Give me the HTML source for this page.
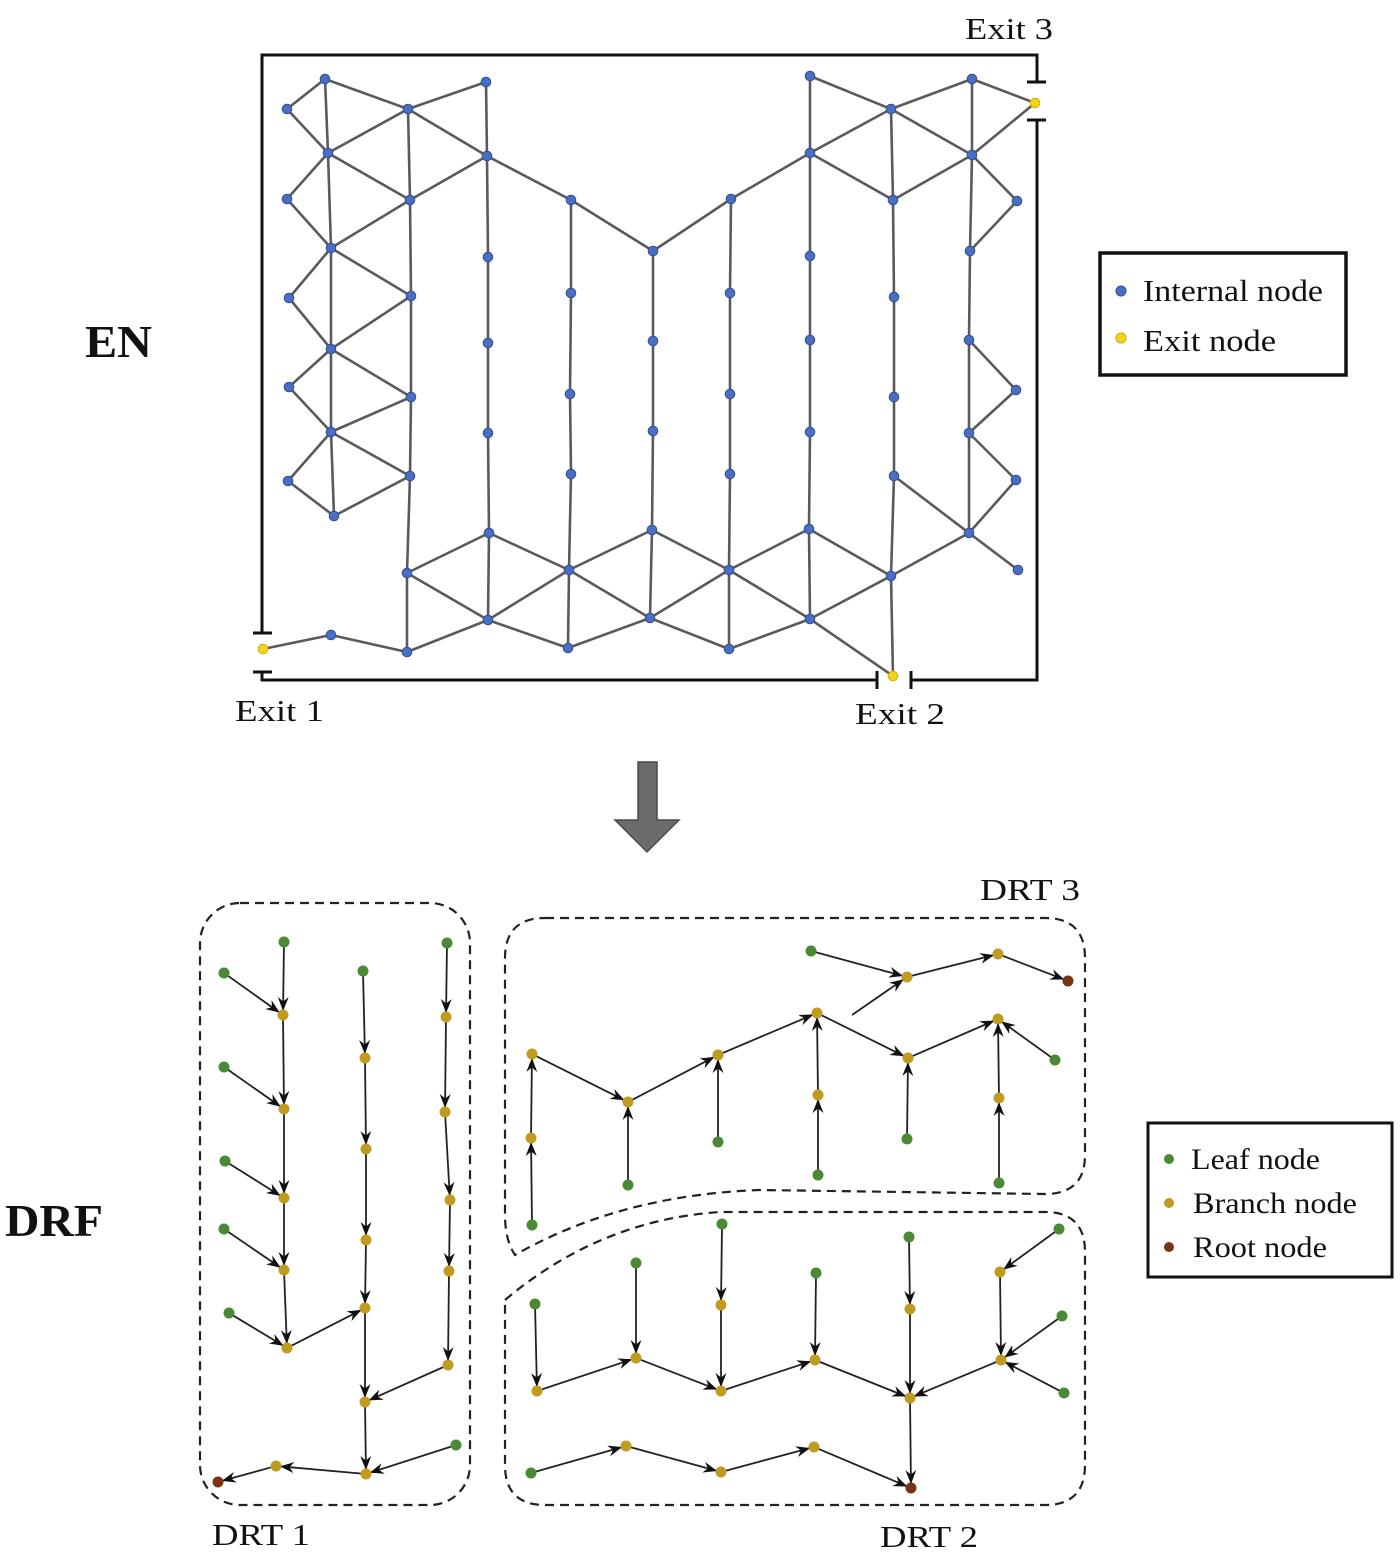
<!DOCTYPE html>
<html><head><meta charset="utf-8"><style>
html,body{margin:0;padding:0;background:#fff;}
svg{display:block;}
text{font-family:"Liberation Serif",serif;fill:#111;}
</style></head><body>
<svg id="s" width="1400" height="1559" viewBox="0 0 1400 1559" xmlns="http://www.w3.org/2000/svg">
<defs>
<marker id="ah" viewBox="0 0 14 11" refX="13" refY="5.5" markerWidth="14" markerHeight="11" markerUnits="userSpaceOnUse" orient="auto">
<path d="M0,0 L14,5.5 L0,11 L4.5,5.5 Z" fill="#111"/>
</marker>
</defs>
<g stroke="#111" stroke-width="3" fill="none">
<path d="M262,633 L262,55 L1037,55 L1037,82"/>
<path d="M1027,82 L1046,82 M1027,120 L1046,120"/>
<path d="M1037,120 L1037,680 L911,680"/>
<path d="M911,671 L911,689 M877,671 L877,689"/>
<path d="M877,680 L262,680 L262,672"/>
<path d="M253,633 L272,633 M253,672 L272,672"/>
</g>
<g id="en"></g>
<g id="drf"></g>
<g stroke="#222" stroke-width="2.2" fill="none" stroke-dasharray="9,6">
<rect x="200" y="903" width="270" height="602" rx="40"/>
<path d="M545,918 L1045,918 Q1085,918 1085,958 L1085,1155 Q1085,1194 1045,1194 L760,1190 Q620,1195 515,1255 Q505,1240 505,1215 L505,958 Q505,918 545,918 Z"/>
<path d="M505,1300 Q600,1220 720,1212 L1045,1212 Q1085,1212 1085,1252 L1085,1465 Q1085,1505 1045,1505 L545,1505 Q505,1505 505,1465 Z"/>
</g>
<path d="M638,762 L657,762 L657,820 L679,820 L647,852 L615,820 L638,820 Z" fill="#6b6b6b" stroke="#4a4a4a" stroke-width="1.5"/>
<rect x="1100" y="253" width="246" height="122" fill="none" stroke="#111" stroke-width="3.5"/>
<circle cx="1121" cy="291" r="5" fill="#4a6fc0" stroke="#2f4f99"/>
<circle cx="1121" cy="338" r="5" fill="#f2d41c" stroke="#d0a800"/>
<text x="1143" y="301" font-size="31" textLength="180" lengthAdjust="spacingAndGlyphs">Internal node</text>
<text x="1143" y="351" font-size="31" textLength="133" lengthAdjust="spacingAndGlyphs">Exit node</text>
<rect x="1148" y="1123" width="244" height="154" fill="none" stroke="#111" stroke-width="3"/>
<circle cx="1169" cy="1159" r="5" fill="#4a8a34"/>
<circle cx="1169" cy="1203" r="5" fill="#c19a20"/>
<circle cx="1169" cy="1247" r="5" fill="#7a3414"/>
<text x="1191" y="1169" font-size="30" textLength="129" lengthAdjust="spacingAndGlyphs">Leaf node</text>
<text x="1193" y="1213" font-size="30" textLength="164" lengthAdjust="spacingAndGlyphs">Branch node</text>
<text x="1193" y="1257" font-size="30" textLength="134" lengthAdjust="spacingAndGlyphs">Root node</text>
<text x="85" y="357" font-size="46" font-weight="bold" textLength="67" lengthAdjust="spacingAndGlyphs">EN</text>
<text x="5" y="1236" font-size="46" font-weight="bold" textLength="98" lengthAdjust="spacingAndGlyphs">DRF</text>
<text x="965" y="39" font-size="31" textLength="88" lengthAdjust="spacingAndGlyphs">Exit 3</text>
<text x="235" y="721" font-size="31" textLength="89" lengthAdjust="spacingAndGlyphs">Exit 1</text>
<text x="855" y="724" font-size="31" textLength="90" lengthAdjust="spacingAndGlyphs">Exit 2</text>
<text x="980" y="900" font-size="31" textLength="100" lengthAdjust="spacingAndGlyphs">DRT 3</text>
<text x="212" y="1545" font-size="31" textLength="98" lengthAdjust="spacingAndGlyphs">DRT 1</text>
<text x="880" y="1547" font-size="31" textLength="98" lengthAdjust="spacingAndGlyphs">DRT 2</text>
</svg>
<script>
var NS="http://www.w3.org/2000/svg";
function el(p,t,a){var e=document.createElementNS(NS,t);for(var k in a)e.setAttribute(k,a[k]);p.appendChild(e);return e;}
var N={A1:[287,109],A2:[325,79],A3:[328,153],A4:[287,199],A5:[331,248],A6:[289,298],A7:[331,349],A8:[289,387],A9:[331,432],A10:[288,481],A11:[334,516],
B1:[408,109],B2:[410,200],B3:[411,296],B4:[411,397],B5:[410,476],B6:[407,573],B7:[407,652],
C1:[486,82],C2:[487,156],C3:[488,257],C4:[488,343],C5:[488,433],C6:[489,533],C7:[488,620],
D1:[571,200],D2:[571,293],D3:[570,394],D4:[571,474],D5:[569,570],D6:[568,648],
E1:[653,251],E2:[653,341],E3:[653,431],E4:[652,530],E5:[650,618],
F1:[731,199],F2:[730,293],F3:[730,394],F4:[730,474],F5:[729,570],F6:[729,649],
G1:[810,76],G2:[810,153],G3:[810,256],G4:[810,340],G5:[810,432],G6:[809,529],G7:[810,619],
H1:[891,109],H2:[893,200],H3:[894,297],H4:[894,397],H5:[894,476],H6:[891,576],X2:[893,676],
I1:[972,79],I2:[972,155],I3:[970,251],I4:[969,340],I5:[969,433],I6:[969,533],
J1:[1017,201],J2:[1016,390],J3:[1016,480],J4:[1018,570],X3:[1035,103],X1:[263,649],K:[331,635]};
var E=["A2-A1","A1-A3","A2-A3","A3-A5","A5-A7","A7-A9","A9-A11","A2-B1","A3-B1","B1-C1","A3-B2","A4-A3","A4-A5","A5-B2","B1-C2","B2-C2","A5-B3","A6-A5","A6-A7","A7-B3","A7-B4","A8-A7","A8-A9","A9-B4","A9-B5","A10-A9","A10-A11","A11-B5",
"B1-B2","B2-B3","B3-B4","B4-B5","B5-B6","B6-B7","C1-C2","C2-C3","C3-C4","C4-C5","C5-C6","C6-C7","C2-D1","D1-E1","E1-F1","F1-G2",
"D1-D2","D2-D3","D3-D4","D4-D5","D5-D6","E1-E2","E2-E3","E3-E4","E4-E5","F1-F2","F2-F3","F3-F4","F4-F5","F5-F6","G1-G2","G2-G3","G3-G4","G4-G5","G5-G6","G6-G7",
"B6-C6","B6-C7","C6-D5","C7-D5","B7-C7","C7-D6","D6-E5","D5-E4","D5-E5","E4-F5","E5-F5","E5-F6","F6-G7","F5-G6","F5-G7","G6-H6","G7-H6","G7-X2","H6-X2","H6-I6","H5-I6","I6-J3","I6-J4",
"H1-H2","H2-H3","H3-H4","H4-H5","H5-H6","I1-I2","I2-I3","I3-I4","I4-I5","I5-I6","I5-J2","I5-J3","I4-J2",
"G1-H1","H1-I1","I1-X3","H1-I2","I2-X3","G2-H1","G2-H2","H2-I2","I2-J1","J1-I3","X1-K","K-B7"];
var g=document.getElementById("en");
E.forEach(function(e){var p=e.split("-"),a=N[p[0]],b=N[p[1]];el(g,"line",{x1:a[0],y1:a[1],x2:b[0],y2:b[1],stroke:"#5a5a5a","stroke-width":2.6});});
for(var k in N){var c=N[k],ex=k[0]=="X";el(g,"circle",{cx:c[0],cy:c[1],r:4.8,fill:ex?"#f2d41c":"#4a6fc0",stroke:ex?"#d6b000":"#2f4f99","stroke-width":1});}
var d=document.getElementById("drf");
var L="#4a8a34",B="#c19a20",R="#7a3414";
var nodes=[];var arrows=[];
function n(x,y,c){nodes.push([x,y,c]);return [x,y];}
function a(p,q,noShort){arrows.push([p,q,noShort]);}
var P0=n(284,942,L),P1=n(283,1015,B),P2=n(284,1109,B),P3=n(284,1198,B),P4=n(284,1270,B),P5=n(287,1348,B);
var l1=n(224,973,L),l2=n(224,1067,L),l3=n(225,1161,L),l4=n(224,1229,L),l5=n(229,1313,L);
a(P0,P1);a(P1,P2);a(P2,P3);a(P3,P4);a(P4,P5);a(l1,P1);a(l2,P2);a(l3,P3);a(l4,P4);a(l5,P5);
var Q0=n(363,971,L),Q1=n(365,1058,B),Q2=n(366,1149,B),Q3=n(366,1240,B),Q5=n(365,1308,B),Q6=n(365,1402,B),Q7=n(366,1474,B);
a(Q0,Q1);a(Q1,Q2);a(Q2,Q3);a(Q3,Q5);a(Q5,Q6);a(Q6,Q7);a(P5,Q5);
var R0=n(447,943,L),R1=n(446,1017,B),R2=n(445,1112,B),R3=n(450,1200,B),R4=n(449,1271,B),R5=n(448,1365,B);
a(R0,R1);a(R1,R2);a(R2,R3);a(R3,R4);a(R4,R5);a(R5,Q6);
var lb=n(456,1445,L),b1=n(276,1466,B),rt1=n(218,1482,R);a(lb,Q7);a(Q7,b1);a(b1,rt1);
var t0=n(811,951,L),t1=n(907,977,B),t2=n(998,954,B),rt3=n(1068,981,R);a(t0,t1);a(t1,t2);a(t2,rt3);
a([852,1015],t1,true);
var m1=n(532,1054,B),m2=n(628,1102,B),m3=n(718,1055,B),m4=n(817,1013,B),m5=n(908,1058,B),m6=n(998,1019,B);
a(m1,m2);a(m2,m3);a(m3,m4);a(m4,m5);a(m5,m6);a(n(1055,1060,L),m6);
var v1=n(531,1138,B);a(n(532,1225,L),v1);a(v1,m1);
a(n(628,1185,L),m2);a(n(718,1142,L),m3);
var v4=n(818,1095,B);a(n(818,1175,L),v4);a(v4,m4);
a(n(907,1139,L),m5);
var v6=n(999,1098,B);a(n(999,1183,L),v6);a(v6,m6);
var u1=n(537,1391,B),u2=n(636,1358,B),u3=n(721,1391,B),u4=n(815,1360,B),u5=n(910,1398,B),u6=n(1001,1360,B);
a(u1,u2);a(u2,u3);a(u3,u4);a(u4,u5);a(u6,u5);
a(n(535,1304,L),u1);a(n(636,1263,L),u2);
var w3=n(721,1305,B);a(n(722,1224,L),w3);a(w3,u3);
a(n(816,1273,L),u4);
var w5=n(910,1309,B);a(n(909,1237,L),w5);a(w5,u5);
var w6=n(1000,1272,B);a(n(1059,1229,L),w6);a(w6,u6);a(n(1062,1316,L),u6);a(n(1064,1393,L),u6);
var rt2=n(911,1488,R);a(u5,rt2);
var s1=n(531,1473,L),s2=n(626,1446,B),s3=n(721,1472,B),s4=n(814,1447,B);a(s1,s2);a(s2,s3);a(s3,s4);a(s4,rt2);
arrows.forEach(function(r){var p=r[0],q=r[1],dx=q[0]-p[0],dy=q[1]-p[1],L2=Math.sqrt(dx*dx+dy*dy),ux=dx/L2,uy=dy/L2;
var sx=r[2]?p[0]:p[0]+ux*4,sy=r[2]?p[1]:p[1]+uy*4;
el(d,"line",{x1:sx,y1:sy,x2:q[0]-ux*5,y2:q[1]-uy*5,stroke:"#222","stroke-width":1.8,"marker-end":"url(#ah)"});});
nodes.forEach(function(c){el(d,"circle",{cx:c[0],cy:c[1],r:5.5,fill:c[2]});});
</script>
</body></html>
